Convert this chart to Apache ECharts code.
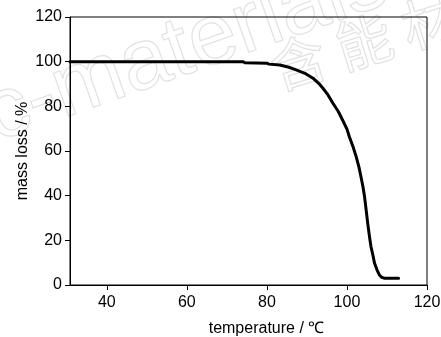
<!DOCTYPE html>
<html>
<head>
<meta charset="utf-8">
<script src="https://cdn.jsdelivr.net/npm/echarts@6/dist/echarts.min.js"></script>
<style>html,body{margin:0;padding:0;background:#fff;}#c{width:441px;height:337px;}</style>
</head>
<body>
<div id="c"></div>
<script>
const temperature = [30.8, 74.0, 74.5, 80.0, 80.5, 83.2, 85.5, 87.3, 89.5, 91.5, 93.0, 94.0, 95.3, 96.5, 97.8, 98.9, 100.0, 100.6, 101.5, 102.3, 103.0, 103.5, 104.0, 104.4, 104.8, 105.2, 105.6, 106.0, 106.5, 106.9, 107.5, 108.1, 108.7, 109.4, 112.9];
const massLoss    = [100,  100,  99.5, 99.3, 98.9, 98.5, 97.5, 96.3, 94.8, 92.6, 90.2, 88.1, 85.0, 81.4, 77.8, 73.9, 69.8, 66.4, 62.0, 57.5, 52.8, 48.5, 44.0, 39.5, 33.5, 27.5, 22.0, 17.2, 13.2, 9.7,  6.8,  4.5,  3.4,  3.0,  3.0];
const xTicks = [40, 60, 80, 100, 120];
const xName = 'temperature / ℃';
const yName = 'mass loss / %';

const FONT = "'Liberation Sans', Arial, sans-serif";
const chart = echarts.init(document.getElementById('c'), null, {renderer: 'canvas'});
chart.setOption({
  animation: false,
  backgroundColor: '#fff',
  grid: {left: 70, right: 14, top: 17, bottom: 52, outerBoundsMode: 'none', containLabel: false, show: true, borderColor: '#000', borderWidth: 1, backgroundColor: 'transparent'},
  graphic: [
    {type: 'text', z: -10, rotation: 0.34, x: 2, y: 160,
     style: {text: 'c-materials', font: "86px 'Liberation Sans'", verticalAlign: 'bottom', fill: 'rgba(0,0,0,0)', stroke: '#e2e2e2', lineWidth: 1.2}},
    {type: 'text', z: -10, rotation: 0.3, x: 280, y: 97,
     style: {text: '含 能 材 料', font: "56px 'Noto Sans CJK SC'", verticalAlign: 'bottom', fill: 'rgba(0,0,0,0)', stroke: '#e2e2e2', lineWidth: 1.2}}
  ],
  xAxis: {
    type: 'value', min: 30.8, max: 120,
    name: xName, nameLocation: 'middle', nameGap: 36, nameMoveOverlap: false,
    nameTextStyle: {fontFamily: FONT, fontSize: 16, color: '#000', padding: [0, 0, 0, 36]},
    axisLine: {show: true, onZero: false, lineStyle: {color: '#000', width: 1}},
    axisTick: {show: true, length: 5, inside: false, customValues: xTicks, lineStyle: {color: '#000'}},
    axisLabel: {customValues: xTicks, margin: 10, fontFamily: FONT, fontSize: 16, color: '#000'},
    splitLine: {show: false}
  },
  yAxis: {
    type: 'value', min: 0, max: 120, interval: 20,
    name: yName, nameLocation: 'middle', nameGap: 39, nameRotate: 90, nameMoveOverlap: false,
    nameTextStyle: {fontFamily: FONT, fontSize: 16, color: '#000'},
    axisLine: {show: true, lineStyle: {color: '#000', width: 1}},
    axisTick: {show: true, length: 5, inside: false, lineStyle: {color: '#000'}},
    axisLabel: {margin: 8, fontFamily: FONT, fontSize: 16, color: '#000'},
    splitLine: {show: false}
  },
  series: [{
    type: 'line',
    data: temperature.map((t, i) => [t, massLoss[i]]),
    symbol: 'none',
    smooth: false,
    lineStyle: {color: '#000', width: 3, join: 'round', cap: 'round'},
    clip: true
  }]
});
</script>
</body>
</html>
